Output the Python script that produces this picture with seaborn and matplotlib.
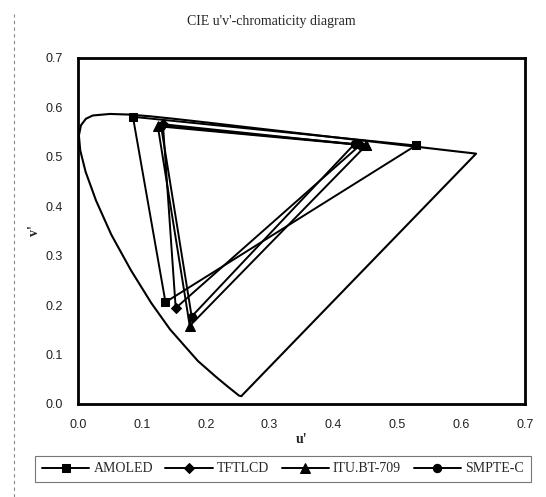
import numpy as np
import pandas as pd
import matplotlib
matplotlib.use("Agg")
import matplotlib.pyplot as plt
import seaborn as sns
from matplotlib.lines import Line2D

# Spectral locus (CIE 1976 u'v'), closed by purple line
locus_u = [0.2557, 0.2522, 0.2347, 0.2161, 0.1877, 0.1441, 0.1147, 0.0828, 0.0521,
           0.0282, 0.0119, 0.0035, 0.0014, 0.0046, 0.0123, 0.0231, 0.0501, 0.0792,
           0.1127, 0.1531, 0.2026, 0.2623, 0.3315, 0.4035, 0.4692, 0.5203, 0.5565,
           0.5830, 0.6005, 0.6109, 0.6234, 0.2557]
locus_v = [0.0159, 0.0169, 0.0350, 0.0549, 0.0871, 0.1510, 0.2044, 0.2708, 0.3427,
           0.4117, 0.4698, 0.5131, 0.5432, 0.5638, 0.5770, 0.5837, 0.5868, 0.5856,
           0.5821, 0.5766, 0.5694, 0.5604, 0.5501, 0.5393, 0.5296, 0.5219, 0.5165,
           0.5125, 0.5099, 0.5084, 0.5065, 0.0159]

# Gamut triangles: red, green, blue, back to red
series_names = ["AMOLED", "TFTLCD", "ITU.BT-709", "SMPTE-C"]
amoled_u = [0.529, 0.086, 0.137, 0.529]
amoled_v = [0.523, 0.581, 0.206, 0.523]
tftlcd_u = [0.442, 0.133, 0.153, 0.442]
tftlcd_v = [0.524, 0.566, 0.194, 0.524]
itu_u = [0.451, 0.125, 0.175, 0.451]
itu_v = [0.523, 0.562, 0.158, 0.523]
smpte_u = [0.433, 0.130, 0.178, 0.433]
smpte_v = [0.526, 0.563, 0.177, 0.526]

x_ticks = [0.0, 0.1, 0.2, 0.3, 0.4, 0.5, 0.6, 0.7]
y_ticks = [0.0, 0.1, 0.2, 0.3, 0.4, 0.5, 0.6, 0.7]

sns.set_theme(style="white")
plt.rcParams["font.family"] = ["Liberation Sans", "DejaVu Sans"]

fig = plt.figure(figsize=(5.46, 4.97), dpi=100)
ax = fig.add_axes([78/546, 1-404/497, (525-78)/546, (404-58)/497])

locus_df = pd.DataFrame({"u": locus_u, "v": locus_v})
sns.lineplot(data=locus_df, x="u", y="v", sort=False, estimator=None,
             color="black", linewidth=1.5, ax=ax)

series = [
    ("AMOLED", amoled_u, amoled_v, "s", 6),
    ("TFTLCD", tftlcd_u, tftlcd_v, "D", 5),
    ("ITU.BT-709", itu_u, itu_v, "^", 6.5),
    ("SMPTE-C", smpte_u, smpte_v, "o", 6),
]
for name, u, v, mk, ms in series:
    df = pd.DataFrame({"u": u, "v": v})
    sns.lineplot(data=df, x="u", y="v", sort=False, estimator=None, color="black",
                 linewidth=1.4, marker=mk, markersize=ms, markeredgecolor="black",
                 markerfacecolor="black", label=name, ax=ax)

ax.set_xlim(0, 0.7)
ax.set_ylim(0, 0.7)
ax.set_xticks(x_ticks)
ax.set_yticks(y_ticks)
ax.set_xticklabels([f"{t:.1f}" for t in x_ticks], fontsize=9)
ax.set_yticklabels([f"{t:.1f}" for t in y_ticks], fontsize=9)
ax.tick_params(axis="x", direction="in", length=3, width=0.8, pad=11, colors="black")
ax.tick_params(axis="y", direction="out", length=3, width=0.8, pad=8, colors="black")
ax.tick_params(axis="both", labelcolor="#222222")
for s in ax.spines.values():
    s.set_color("black")
    s.set_linewidth(2)
    s.set_visible(True)

ax.set_xlabel("u'", fontsize=10, family=["Liberation Serif"], fontweight="bold", labelpad=1)
ax.set_ylabel("v'", fontsize=10, family=["Liberation Serif"], fontweight="bold", labelpad=3)
fig.text(0.497, 1-22/497, "CIE u'v'-chromaticity diagram", ha="center", va="center",
         fontsize=10, family=["Liberation Serif"])

ax.get_legend().remove()
handles, labels = ax.get_legend_handles_labels()
leg = fig.legend(handles[-4:], labels[-4:], ncol=4, loc="center",
                 bbox_to_anchor=(0.518, 1-469/497), frameon=True, fancybox=False,
                 prop={"family": "Liberation Serif", "size": 10},
                 handlelength=3.4, handletextpad=0.3, columnspacing=0.9,
                 borderpad=0.5, edgecolor="#555555")
leg.get_frame().set_linewidth(0.8)

# scan border artifact on the left
fig.add_artist(Line2D([14/546, 14/546], [0, 1-14/497], transform=fig.transFigure,
                      color="#888888", linewidth=0.8, linestyle=(0, (3, 3))))

fig.savefig("out.png", dpi=100)
